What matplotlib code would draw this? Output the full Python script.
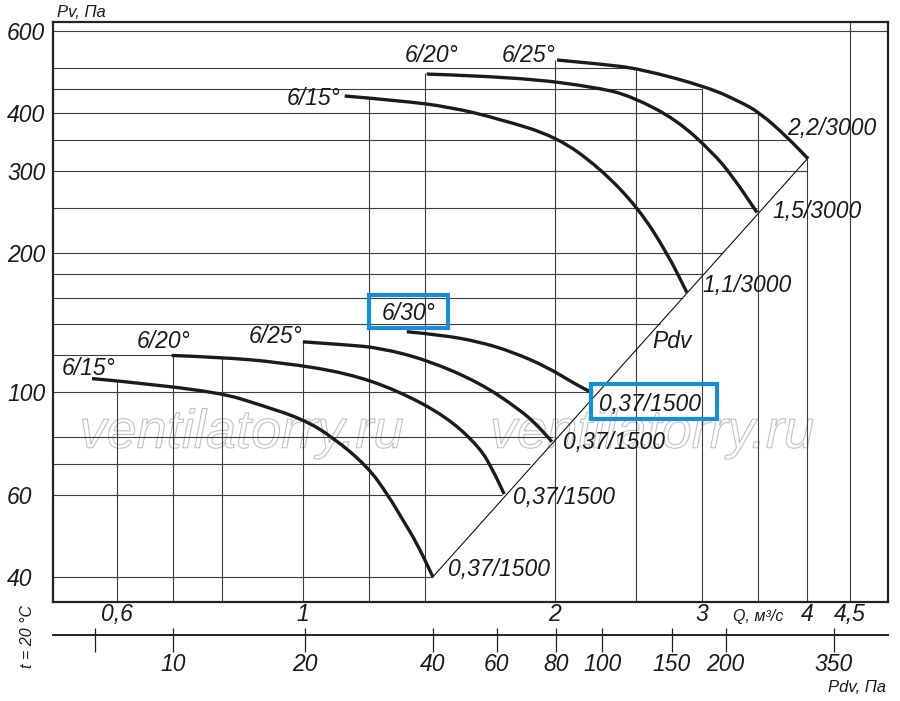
import matplotlib
matplotlib.use('Agg')
import matplotlib.pyplot as plt
from matplotlib import patches, patheffects
from matplotlib.path import Path
from matplotlib.ticker import FixedLocator, NullLocator, NullFormatter

plt.rcParams['font.family'] = ['Liberation Sans', 'DejaVu Sans']
plt.rcParams['font.style'] = 'italic'

# axis ranges (Q, m3/s and Pv, Pa)
Q_LO, Q_HI = 0.503, 5.0
P_LO, P_HI = 35.3, 628

q_ticks = [0.6, 1, 2, 3, 4, 4.5]
q_labels = ['0,6', '1', '2', '3', '4', '4,5']
p_ticks = [600, 400, 300, 200, 100, 60, 40]
p_labels = ['600', '400', '300', '200', '100', '60', '40']

# second scale: dynamic pressure Pdv, ticks read at their Q positions
pdv_tick_q = [0.564, 0.70, 1.005, 1.43, 1.705, 2.005, 2.28, 2.76, 3.2, 4.31]
pdv_labels = ['', '10', '20', '40', '60', '80', '100', '150', '200', '350']

# grid lines (they stop at the curves / Pdv line)
grid_p = [600, 500, 450, 400, 350, 300, 250, 200, 180, 160, 140, 120, 100, 80, 70, 60, 40]
grid_p_end = [5.0, 2.5, 3.0, 3.5, 3.79, 4.0, 3.49, 3.17, 3.0, 2.84, 2.67, 0.70, 2.2, 1.99, 1.87, 1.73, 1.43]
grid_q = [0.6, 0.7, 0.8, 1.0, 1.2, 1.4, 2.0, 2.5, 3.0, 3.5, 4.0, 4.5]
grid_q_top = [106, 120, 119, 128, 433, 487, 520, 500, 452, 400, 321, 628]

# Pdv line
pdv_q = [1.43, 4.02]
pdv_p = [40, 321]

# fan curves, 3000 rpm
up_15_q = [1.122, 1.306, 1.498, 1.719, 2.012, 2.264, 2.513, 2.722, 2.876]
up_15_p = [435, 425, 412, 388, 355, 304, 250, 200, 164]
up_20_q = [1.406, 1.802, 2.264, 2.479, 2.798, 3.09, 3.265, 3.487]
up_20_p = [485, 478, 453, 433, 386, 328, 291, 244]
up_25_q = [2.012, 2.264, 2.527, 3.039, 3.327, 3.516, 3.787, 4.01]
up_25_p = [520, 510, 498, 455, 423, 400, 355, 319]

# fan curves, 1500 rpm
lo_15_q = [0.56, 0.596, 0.794, 0.888, 1.0, 1.086, 1.196, 1.264, 1.317, 1.368, 1.43]
lo_15_p = [107, 106, 100, 94, 87.5, 80, 69, 60, 53, 47.3, 40]
lo_20_q = [0.697, 0.794, 0.939, 1.129, 1.295, 1.486, 1.627, 1.686, 1.74]
lo_20_p = [120, 119, 116, 110, 101, 88.5, 76, 68, 60.3]
lo_25_q = [1.0, 1.129, 1.236, 1.406, 1.627, 1.817, 1.904, 1.984]
lo_25_p = [128.4, 126.5, 124.6, 117.4, 104.8, 91.6, 85, 78.2]
lo_30_q = [1.331, 1.458, 1.627, 1.782, 1.956, 2.102, 2.22]
lo_30_p = [135, 133, 128.4, 122, 113.4, 104.8, 99.5]

curves = [(up_15_q, up_15_p), (up_20_q, up_20_p), (up_25_q, up_25_p),
          (lo_15_q, lo_15_p), (lo_20_q, lo_20_p), (lo_25_q, lo_25_p), (lo_30_q, lo_30_p)]

# labels: (Q, P, text)
labels = [
    (0.515, 108.9, '6/15°'), (0.633, 124.6, '6/20°'), (0.862, 127.7, '6/25°'),
    (1.243, 143.2, '6/30°'),
    (0.957, 416, '6/15°'), (1.324, 515, '6/20°'), (1.729, 515, '6/25°'),
    (3.787, 358.6, '2,2/3000'), (3.643, 237.5, '1,5/3000'), (3.005, 164.6, '1,1/3000'),
    (2.612, 124.6, 'Pdv'),
    (2.258, 91.2, '0,37/1500'), (2.045, 75.5, '0,37/1500'),
    (1.782, 57.4, '0,37/1500'), (1.49, 40.2, '0,37/1500'),
]

# highlighted boxes (Q0, Q1, P0, P1)
boxes = [(1.20, 1.49, 137.7, 162.2), (2.209, 3.124, 87.6, 104.2)]


def curve_path(q, p):
    # quadratic bezier through the read points (midpoints taken in log space)
    verts = [(q[0], p[0])]
    codes = [Path.MOVETO]
    for i in range(1, len(q) - 1):
        mq = (q[i] * q[i + 1]) ** 0.5
        mp = (p[i] * p[i + 1]) ** 0.5
        verts += [(q[i], p[i]), (mq, mp)]
        codes += [Path.CURVE3, Path.CURVE3]
    verts.append((q[-1], p[-1]))
    codes.append(Path.LINETO)
    return Path(verts, codes)


fig = plt.figure(figsize=(9, 7.01), dpi=100)
ax = fig.add_axes([53 / 900, 99 / 701, 835 / 900, 580 / 701])
ax.set_xscale('log')
ax.set_yscale('log')
ax.set_xlim(Q_LO, Q_HI)
ax.set_ylim(P_LO, P_HI)

for s in ax.spines.values():
    s.set_linewidth(1.6)
    s.set_color('#222222')

ax.xaxis.set_minor_locator(NullLocator())
ax.yaxis.set_minor_locator(NullLocator())
ax.xaxis.set_minor_formatter(NullFormatter())
ax.yaxis.set_minor_formatter(NullFormatter())
ax.set_xticks(q_ticks, q_labels)
ax.set_yticks(p_ticks, p_labels, ha='left')
ax.tick_params(axis='both', length=0, labelsize=16.5, labelcolor='#1a1a1a')
ax.tick_params(axis='x', pad=0.5)
ax.tick_params(axis='y', pad=33)

gcol = '#3c3c3c'
ax.hlines(grid_p, Q_LO, grid_p_end, colors=gcol, lw=0.8, zorder=1)
ax.vlines(grid_q, P_LO, grid_q_top, colors=gcol, lw=0.8, zorder=1)

ax.plot(pdv_q, pdv_p, color='#111111', lw=0.8, zorder=2)

for q, p in curves:
    ax.add_patch(patches.PathPatch(curve_path(q, p), fill=False, edgecolor='#1b1b1b',
                                   lw=2.4, capstyle='butt', zorder=3))

for q, p, t in labels:
    ax.text(q, p, t, ha='left', va='baseline', fontsize=16.5, color='#1a1a1a', zorder=4)

for q0, q1, p0, p1 in boxes:
    ax.add_patch(patches.Rectangle((q0, p0), q1 - q0, p1 - p0, fill=False,
                                   edgecolor='#168ddb', lw=3, zorder=5))

# watermark
for q in [0.541, 1.673]:
    ax.text(q, 75.9, 'ventilatorry.ru', fontsize=39, color='none', ha='left', va='baseline',
            zorder=0.5,
            path_effects=[patheffects.Stroke(linewidth=0.8, foreground='#c2c2c2')])

# Pdv scale under the chart
ax2 = fig.add_axes([53 / 900, 66 / 701, 835 / 900, 0.0001])
ax2.set_xscale('log')
ax2.set_xlim(Q_LO, Q_HI)
ax2.patch.set_visible(False)
for side in ['left', 'right', 'top']:
    ax2.spines[side].set_visible(False)
ax2.spines['bottom'].set_linewidth(1.4)
ax2.spines['bottom'].set_color('#222222')
ax2.set_yticks([])
ax2.xaxis.set_major_locator(FixedLocator(pdv_tick_q))
ax2.xaxis.set_minor_locator(FixedLocator(pdv_tick_q))
ax2.xaxis.set_minor_formatter(NullFormatter())
ax2.xaxis.remove_overlapping_locs = False
ax2.set_xticklabels(pdv_labels)
ax2.tick_params(axis='x', which='major', direction='out', length=12, width=0.9,
                pad=1, labelsize=16.5, labelcolor='#1a1a1a', color='#222222')
ax2.tick_params(axis='x', which='minor', direction='in', length=5, width=0.9, color='#222222')

fig.text(57 / 900, 1 - 17 / 701, 'Pv, Па', fontsize=12, va='baseline', color='#1a1a1a')
fig.text(733 / 900, 1 - 621 / 701, 'Q, м³/с', fontsize=11.5, va='baseline', color='#1a1a1a')
fig.text(828 / 900, 1 - 692 / 701, 'Pdv, Па', fontsize=12, va='baseline', color='#1a1a1a')
fig.text(27 / 900, 1 - 637 / 701, 't = 20 °C', fontsize=11.5, rotation=90,
         ha='center', va='center', color='#1a1a1a')

fig.savefig('out.png', dpi=100)
